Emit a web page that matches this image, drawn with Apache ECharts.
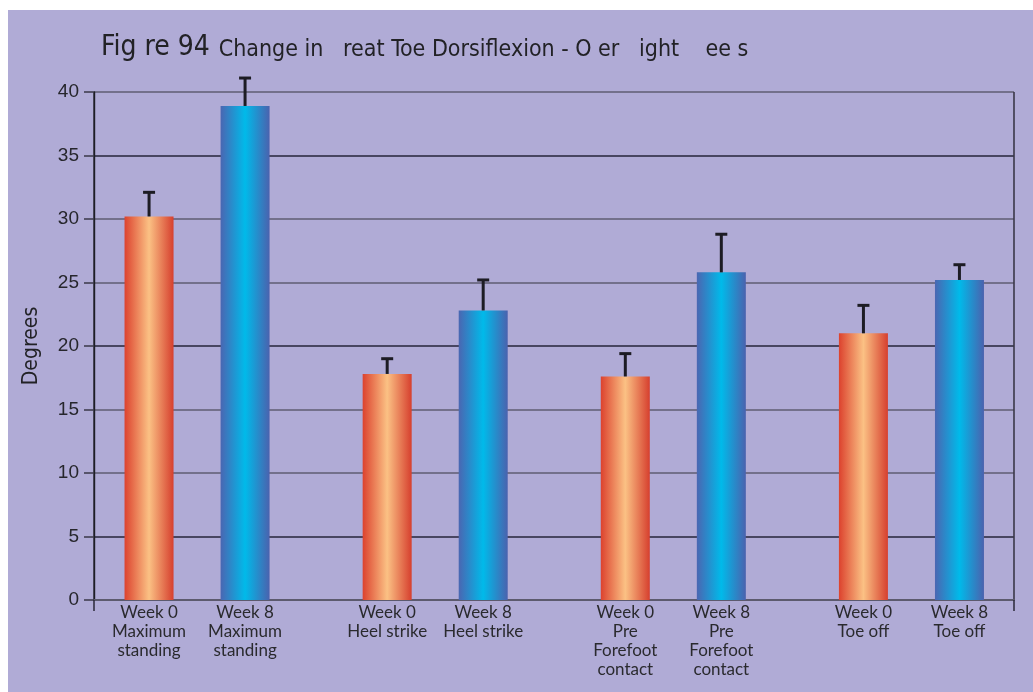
<!DOCTYPE html>
<html>
<head>
<meta charset="utf-8">
<script src="https://cdn.jsdelivr.net/npm/echarts@6/dist/echarts.min.js"></script>
<style>
  html, body { margin: 0; padding: 0; background: #fff; }
  #chart { width: 1033px; height: 692px; }
</style>
</head>
<body>
<div id="chart"></div>
<script>
// groups on the x axis, two measurements each (week 0 / week 8)
var groups = ['Maximum standing', 'Heel strike', 'Pre Forefoot contact', 'Toe off'];
var week0Labels = ['Week 0\nMaximum\nstanding', 'Week 0\nHeel strike', 'Week 0\nPre\nForefoot\ncontact', 'Week 0\nToe off'];
var week8Labels = ['Week 8\nMaximum\nstanding', 'Week 8\nHeel strike', 'Week 8\nPre\nForefoot\ncontact', 'Week 8\nToe off'];
var week0Mean = [30.2, 17.8, 17.6, 21.0];
var week0Err = [1.9, 1.2, 1.8, 2.2];
var week8Mean = [38.9, 22.8, 25.8, 25.2];
var week8Err = [2.2, 2.4, 3.0, 1.2];
var yMin = 0, yMax = 40, yStep = 5;

var myChart = echarts.init(document.getElementById('chart'));

var labelFont = 'Lato, "DejaVu Sans", sans-serif';
var narrowFont = '"Liberation Sans Narrow", "DejaVu Sans Condensed", sans-serif';
var numFont = '"Liberation Sans", Arial, sans-serif';

function errorBars(means, errs, offset) {
    return {
        type: 'custom',
        xAxisIndex: 1,
        yAxisIndex: 1,
        z: 5,
        silent: true,
        data: means.map(function (m, i) { return [i, m, errs[i]]; }),
        encode: { x: 0, y: 1 },
        renderItem: function (params, api) {
            var x = api.coord([api.value(0), 0])[0] + offset;
            var yTop = api.coord([api.value(0), api.value(1)])[1];
            var yErr = api.coord([api.value(0), api.value(1) + api.value(2)])[1];
            var st = { stroke: '#1d1c24', lineWidth: 3 };
            return {
                type: 'group',
                children: [
                    { type: 'line', shape: { x1: x, y1: yTop, x2: x, y2: yErr }, style: st },
                    { type: 'line', shape: { x1: x - 6, y1: yErr, x2: x + 6, y2: yErr }, style: st }
                ]
            };
        }
    };
}

function barLabel(texts) {
    return {
        show: true,
        position: 'bottom',
        distance: 3,
        color: '#2a2a2e',
        fontFamily: labelFont,
        fontSize: 17,
        lineHeight: 19,
        align: 'center',
        formatter: function (p) { return texts[p.dataIndex]; }
    };
}

var orange = new echarts.graphic.LinearGradient(0, 0, 1, 0, [
    { offset: 0, color: '#dc422e' },
    { offset: 0.5, color: '#fbc184' },
    { offset: 1, color: '#d63f2e' }
]);
var blue = new echarts.graphic.LinearGradient(0, 0, 1, 0, [
    { offset: 0, color: '#4a66b2' },
    { offset: 0.5, color: '#00baea' },
    { offset: 1, color: '#4a62ae' }
]);

var option = {
    animation: false,
    backgroundColor: '#fff',
    graphic: [{
        type: 'rect',
        left: 8, top: 10,
        shape: { width: 1025, height: 682 },
        style: { fill: '#b0abd6' },
        z: -10
    }],
    title: {
        text: '{a|Fig re 94} {b|Change in   reat Toe Dorsiflexion - O er   ight    ee s}',
        left: 96,
        top: 28,
        textStyle: {
            fontWeight: 'normal',
            rich: {
                a: { fontFamily: narrowFont, fontSize: 28, fontWeight: 'normal', color: '#222226', verticalAlign: 'bottom', lineHeight: 29, padding: [0, 4, 0, 0] },
                b: { fontFamily: narrowFont, fontSize: 23, fontWeight: 'normal', color: '#222226', verticalAlign: 'bottom', lineHeight: 29 }
            }
        }
    },
    grid: [
        { left: 94, right: 19, top: 92, bottom: 92 },
        { left: 78, right: 2.5, top: 92, bottom: 92 }
    ],
    xAxis: [{
        // frame only: axis line, end ticks and the right-hand vertical line
        type: 'value',
        gridIndex: 0,
        min: 0, max: 1, interval: 1,
        axisLine: { show: true, onZero: false, lineStyle: { color: '#5c5a6e', width: 2 } },
        axisTick: { show: true, length: 11, lineStyle: { color: '#2a2838', width: 1.5 } },
        axisLabel: { show: false },
        splitLine: { show: true, lineStyle: { color: '#3a3848', width: 1.6 } }
    }, {
        type: 'category',
        gridIndex: 1,
        data: groups,
        axisLine: { show: false },
        axisTick: { show: false },
        axisLabel: { show: false }
    }],
    yAxis: [{
        type: 'value',
        gridIndex: 0,
        min: yMin, max: yMax, interval: yStep,
        name: 'Degrees',
        nameLocation: 'middle',
        nameGap: 52,
        nameTextStyle: { fontFamily: narrowFont, fontSize: 21, color: '#222226' },
        axisLine: { show: true, lineStyle: { color: '#1e1e26', width: 1.4 } },
        axisTick: { show: true, length: 10, lineStyle: { color: '#3a3848', width: 1.5 } },
        axisLabel: { margin: 15, fontFamily: numFont, fontSize: 19, color: '#26262c' },
        splitLine: { show: true, lineStyle: { color: ['#5f5d72', '#26243a', '#5f5d72'], width: 1.6 } }
    }, {
        type: 'value',
        gridIndex: 1,
        min: yMin, max: yMax, interval: yStep,
        show: false
    }],
    series: [{
        name: 'Week 0',
        type: 'bar',
        xAxisIndex: 1,
        yAxisIndex: 1,
        barWidth: 49,
        barGap: '96%',
        itemStyle: { color: orange },
        label: barLabel(week0Labels),
        data: week0Mean
    }, {
        name: 'Week 8',
        type: 'bar',
        xAxisIndex: 1,
        yAxisIndex: 1,
        barWidth: 49,
        barGap: '96%',
        itemStyle: { color: blue },
        label: barLabel(week8Labels),
        data: week8Mean
    },
    errorBars(week0Mean, week0Err, -48),
    errorBars(week8Mean, week8Err, 48)]
};

myChart.setOption(option);
</script>
</body>
</html>
